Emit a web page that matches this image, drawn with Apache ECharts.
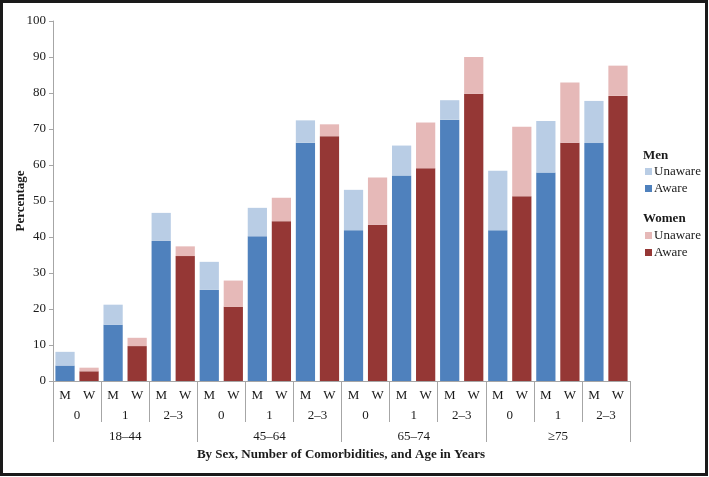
<!DOCTYPE html>
<html>
<head>
<meta charset="utf-8">
<script src="https://cdn.jsdelivr.net/npm/echarts@6/dist/echarts.min.js"></script>
<style>
html,body{margin:0;padding:0;background:#fff;}
#c{width:709px;height:477px;}
</style>
</head>
<body>
<div id="c"></div>
<script>
// Data
const sexLabels = ['M','W','M','W','M','W','M','W','M','W','M','W','M','W','M','W','M','W','M','W','M','W','M','W'];
const comorbLabels = ['0','1','2–3','0','1','2–3','0','1','2–3','0','1','2–3'];
const ageLabels = ['18–44','45–64','65–74','≥75'];
// totals (aware + unaware) per bar, and aware share per bar (M,W alternating)
const totalPct = [8.1, 3.7, 21.2, 12.0, 46.7, 37.4, 33.1, 27.9, 48.1, 50.9, 72.4, 71.3,
                  53.1, 56.5, 65.4, 71.8, 78.0, 90.0, 58.4, 70.6, 72.2, 82.9, 77.8, 87.6];
const awarePct = [4.3, 2.7, 15.6, 9.7, 38.9, 34.7, 25.3, 20.6, 40.2, 44.4, 66.2, 68.0,
                  41.9, 43.4, 57.1, 59.1, 72.6, 79.8, 41.9, 51.3, 57.9, 66.2, 66.1, 79.2];
const yTicks = [0,10,20,30,40,50,60,70,80,90,100];

const FONT = 'Liberation Serif';
const TXT = '#1a1a1a';
const GRAY = '#a6a6a6';

function pick(arr, sex) {
  return arr.map((v, i) => (sexLabels[i] === sex ? v : '-'));
}
const unaware = totalPct.map((t, i) => +(t - awarePct[i]).toFixed(1));

const cats0 = sexLabels.map((s, i) => 's' + i);
const cats1 = comorbLabels.map((s, i) => 'c' + i);
const cats2 = ageLabels.map((s, i) => 'a' + i);

const chart = echarts.init(document.getElementById('c'), null, {renderer: 'canvas'});
chart.setOption({
  animation: false,
  backgroundColor: '#fff',
  grid: {left: 53, right: 79, top: 21, bottom: 96, containLabel: false, outerBoundsMode: 'none'},
  xAxis: [
    {
      type: 'category', data: cats0, position: 'bottom', offset: 0,
      axisLine: {show: true, lineStyle: {color: GRAY, width: 1}},
      axisTick: {show: false},
      axisLabel: {interval: 0, margin: 8, fontFamily: FONT, fontSize: 13, color: TXT,
        formatter: (v, i) => sexLabels[i]}
    },
    {
      type: 'category', data: cats1, position: 'bottom', offset: 0,
      axisLine: {show: false},
      axisTick: {show: true, interval: 0, length: 41, lineStyle: {color: GRAY, width: 1}},
      axisLabel: {interval: 0, margin: 28, fontFamily: FONT, fontSize: 13, color: TXT,
        formatter: (v, i) => comorbLabels[i]}
    },
    {
      type: 'category', data: cats2, position: 'bottom', offset: 0,
      axisLine: {show: false},
      axisTick: {show: true, interval: 0, length: 61, lineStyle: {color: GRAY, width: 1}},
      axisLabel: {interval: 0, margin: 49, fontFamily: FONT, fontSize: 13, color: TXT,
        formatter: (v, i) => ageLabels[i]}
    }
  ],
  yAxis: {
    type: 'value', min: 0, max: 100, interval: 10,
    name: 'Percentage', nameLocation: 'middle', nameGap: 26, nameRotate: 90,
    nameMoveOverlap: false,
    nameTextStyle: {fontFamily: FONT, fontSize: 13, fontWeight: 'bold', color: TXT},
    axisLine: {show: true, lineStyle: {color: GRAY, width: 1}},
    axisTick: {show: true, length: 4, lineStyle: {color: GRAY}},
    splitLine: {show: false},
    axisLabel: {margin: 7, fontFamily: FONT, fontSize: 13, color: TXT,
      formatter: v => (yTicks.indexOf(v) >= 0 ? String(v) : '')}
  },
  legend: [
    {
      data: ['Men Unaware', 'Men Aware'], orient: 'vertical', left: 645, top: 164,
      icon: 'rect', itemWidth: 7, itemHeight: 7, itemGap: 2,
      textStyle: {fontFamily: FONT, fontSize: 13, color: TXT, lineHeight: 15, padding: [0,0,0,-3]},
      formatter: n => n.replace('Men ', ''), selectedMode: false, padding: 0
    },
    {
      data: ['Women Unaware', 'Women Aware'], orient: 'vertical', left: 645, top: 228,
      icon: 'rect', itemWidth: 7, itemHeight: 7, itemGap: 2,
      textStyle: {fontFamily: FONT, fontSize: 13, color: TXT, lineHeight: 15, padding: [0,0,0,-3]},
      formatter: n => n.replace('Women ', ''), selectedMode: false, padding: 0
    }
  ],
  graphic: [
    {type: 'text', left: 643, top: 149, style: {text: 'Men', font: 'bold 13px "Liberation Serif"', fill: TXT}},
    {type: 'text', left: 643, top: 212, style: {text: 'Women', font: 'bold 13px "Liberation Serif"', fill: TXT}},
    {type: 'text', x: 341, y: 455, style: {text: 'By Sex, Number of Comorbidities, and Age in Years',
      font: 'bold 13px "Liberation Serif"', fill: TXT, align: 'center', verticalAlign: 'middle'}},
    {type: 'rect', shape: {x: 1.5, y: 1.5, width: 705, height: 473},
      style: {fill: null, stroke: '#1a1a1a', lineWidth: 3}, silent: true}
  ],
  series: [
    {name: 'Men Aware', type: 'bar', stack: 'all', data: pick(awarePct, 'M'),
      itemStyle: {color: '#4F81BD'}, barCategoryGap: '20%'},
    {name: 'Women Aware', type: 'bar', stack: 'all', data: pick(awarePct, 'W'),
      itemStyle: {color: '#953735'}, barCategoryGap: '20%'},
    {name: 'Men Unaware', type: 'bar', stack: 'all', data: pick(unaware, 'M'),
      itemStyle: {color: '#B9CDE5'}, barCategoryGap: '20%'},
    {name: 'Women Unaware', type: 'bar', stack: 'all', data: pick(unaware, 'W'),
      itemStyle: {color: '#E6B9B8'}, barCategoryGap: '20%'}
  ]
});
</script>
</body>
</html>
